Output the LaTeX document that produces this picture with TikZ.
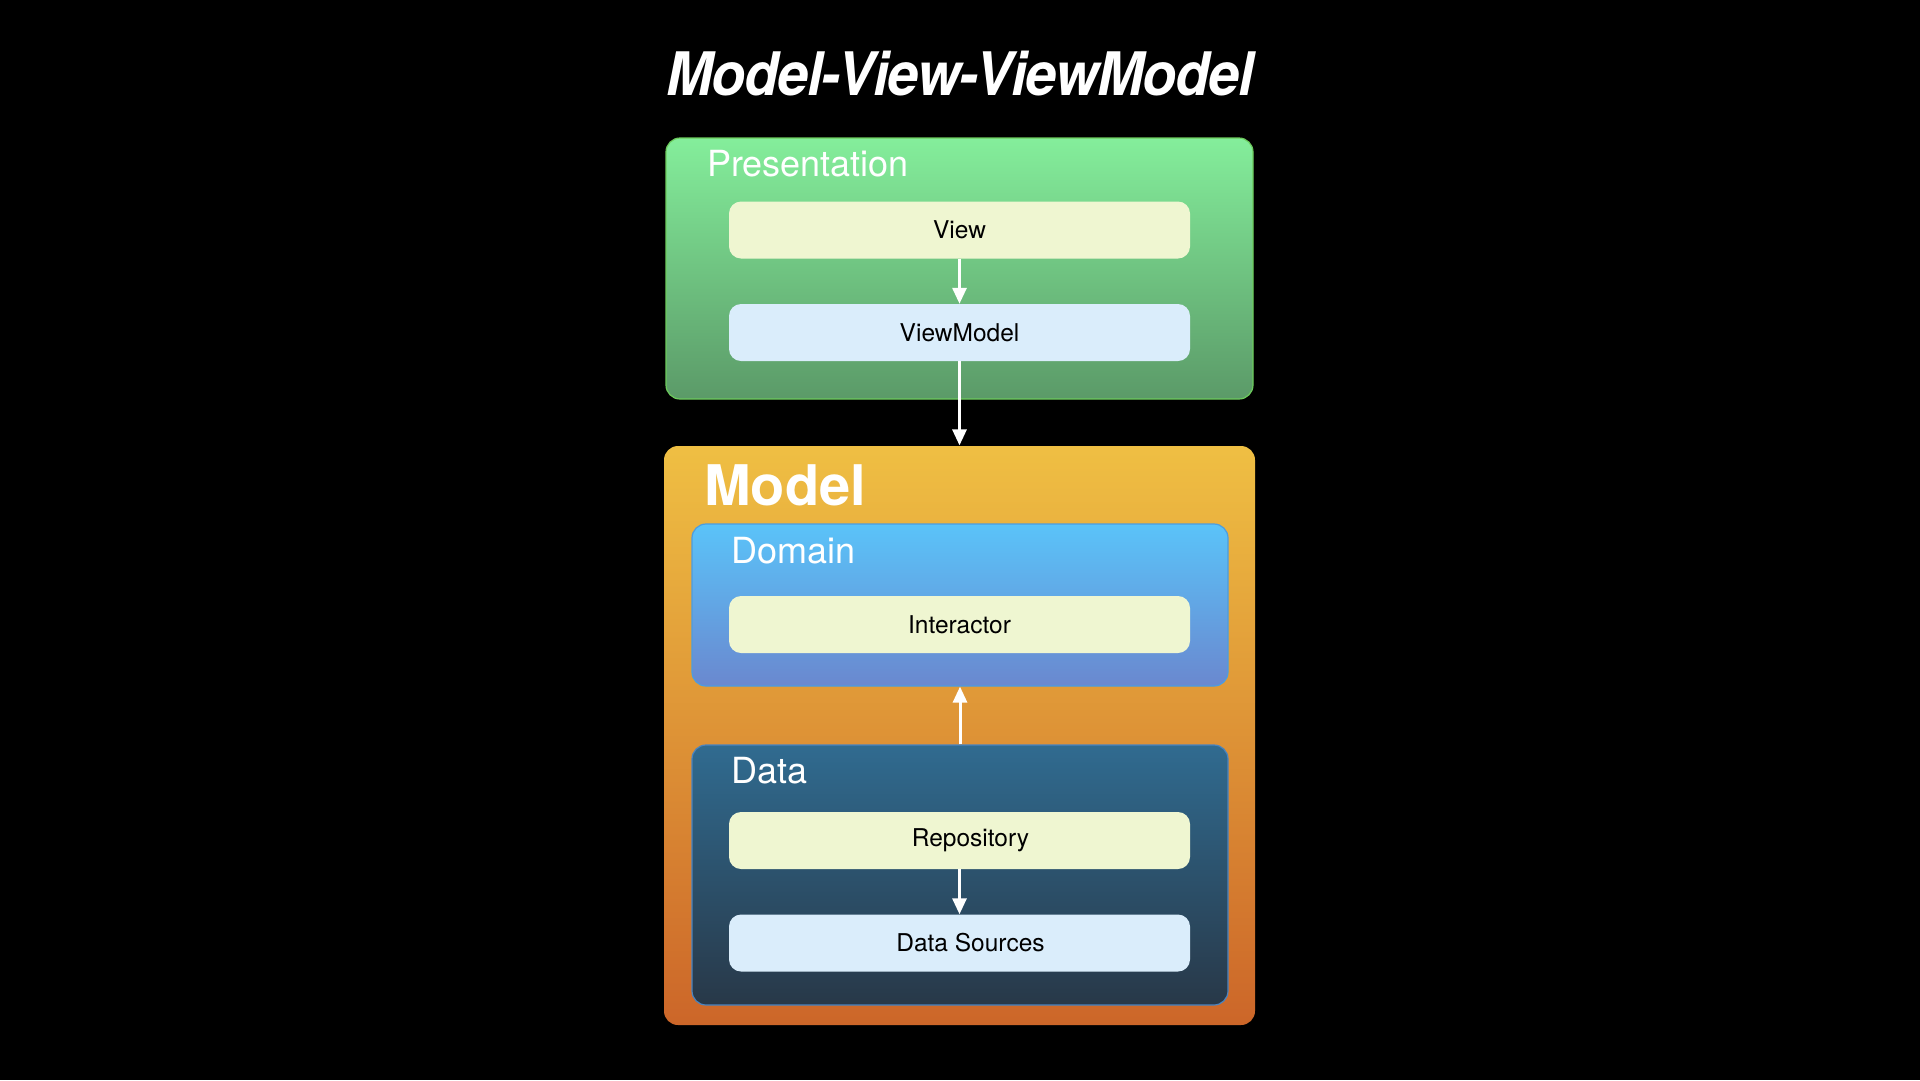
\documentclass[tikz,border=0pt]{standalone}
\usepackage{fontspec}
\setmainfont{TeX Gyre Heros}
\usetikzlibrary{arrows.meta}

\definecolor{presTop}{HTML}{84EE9B}
\definecolor{presBottom}{HTML}{5B9A68}
\definecolor{presEdge}{HTML}{6CCB5C}
\definecolor{modelTop}{HTML}{EFBF43}
\definecolor{modelBottom}{HTML}{CC6629}
\definecolor{domainTop}{HTML}{5AC3F9}
\definecolor{domainBottom}{HTML}{6A88CF}
\definecolor{domainEdge}{HTML}{4C9DE0}
\definecolor{dataTop}{HTML}{306B90}
\definecolor{dataBottom}{HTML}{283848}
\definecolor{dataEdge}{HTML}{4A84C0}
\definecolor{unitYellow}{HTML}{EFF6D1}
\definecolor{unitBlue}{HTML}{DAEDFB}

\tikzset{
  layer/.style={rounded corners=14pt, inner sep=0pt, line width=1.2pt},
  unit/.style={rounded corners=12pt, inner sep=0pt, minimum width=461pt,
    minimum height=57pt, text=black, font=\fontsize{24.5}{29}\selectfont},
  layertitle/.style={anchor=west, inner sep=0pt, text=white,
    font=\fontsize{36}{43}\selectfont},
  flow/.style={draw=white, line width=3pt, -{Triangle[width=14pt,length=16pt]}}
}

\begin{document}
\begin{tikzpicture}[x=1pt, y=-1pt]
\fill[black] (0,0) rectangle (1920,1080);
\useasboundingbox (0,0) rectangle (1920,1080);
\node[inner sep=0pt, text=white,
  font=\fontsize{60}{72}\selectfont\bfseries\itshape\addfontfeatures{LetterSpace=-2}]
  (title) at (960,73.5) {\scalebox{0.93}[1]{Model-View-ViewModel}};
% presentation layer
\node[layer, draw=presEdge, top color=presTop, bottom color=presBottom,
  minimum width=587pt, minimum height=261pt] (presentation) at (959.5,268.5) {};
\node[layertitle] (presentationlabel) at (707,164) {Presentation};
\node[unit, fill=unitYellow] (view) at (959.5,230) {View};
\node[unit, fill=unitBlue] (viewmodel) at (959.5,332.5) {ViewModel};
% model layer
\node[layer, top color=modelTop, bottom color=modelBottom,
  minimum width=591pt, minimum height=579pt] (model) at (959.5,735.5) {};
\node[layertitle, font=\fontsize{56}{66}\selectfont\bfseries] (modellabel) at (704,485) {Model};
\node[layer, draw=domainEdge, top color=domainTop, bottom color=domainBottom,
  minimum width=536pt, minimum height=162pt] (domain) at (960,605) {};
\node[layertitle] (domainlabel) at (731,551) {Domain};
\node[unit, fill=unitYellow] (interactor) at (959.5,624.5) {Interactor};
\node[layer, draw=dataEdge, top color=dataTop, bottom color=dataBottom,
  minimum width=536pt, minimum height=260pt] (data) at (960,875) {};
\node[layertitle] (datalabel) at (731,771) {Data};
\node[unit, fill=unitYellow] (repository) at (959.5,840.5) {\hspace*{22pt}Repository};
\node[unit, fill=unitBlue] (datasources) at (959.5,943) {\hspace*{22pt}Data Sources};
% dependencies
\draw[flow] (view.south) -- (viewmodel.north);
\draw[flow] (viewmodel.south) -- (model.north);
\draw[flow] (data.north) -- (domain.south);
\draw[flow] (repository.south) -- (datasources.north);
\end{tikzpicture}
\end{document}
